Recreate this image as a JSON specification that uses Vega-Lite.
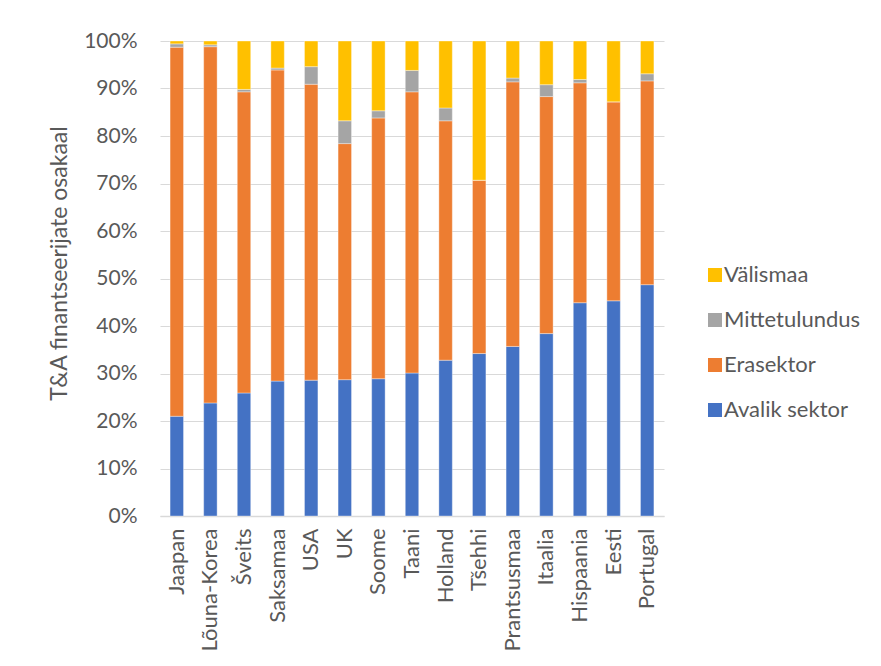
{
  "$schema": "https://vega.github.io/schema/vega-lite/v6.json",
  "width": 504,
  "height": 475,
  "autosize": {"type": "none"},
  "padding": {"left": 160, "top": 41, "right": 217, "bottom": 150},
  "background": "#ffffff",
  "config": {
    "font": "Lato",
    "view": {"stroke": null},
    "axis": {"labelColor": "#595959", "titleColor": "#595959", "labelFont": "Lato", "titleFont": "Lato"},
    "legend": {"labelFont": "Lato"}
  },
  "data": {
    "values": [
      {"riik": "Jaapan", "allikas": "Avalik sektor", "osa": 21.0},
      {"riik": "Jaapan", "allikas": "Erasektor", "osa": 77.7},
      {"riik": "Jaapan", "allikas": "Mittetulundus", "osa": 0.7},
      {"riik": "Jaapan", "allikas": "Välismaa", "osa": 0.6},
      {"riik": "Lõuna-Korea", "allikas": "Avalik sektor", "osa": 23.8},
      {"riik": "Lõuna-Korea", "allikas": "Erasektor", "osa": 75.0},
      {"riik": "Lõuna-Korea", "allikas": "Mittetulundus", "osa": 0.4},
      {"riik": "Lõuna-Korea", "allikas": "Välismaa", "osa": 0.8},
      {"riik": "Šveits", "allikas": "Avalik sektor", "osa": 25.9},
      {"riik": "Šveits", "allikas": "Erasektor", "osa": 63.4},
      {"riik": "Šveits", "allikas": "Mittetulundus", "osa": 0.5},
      {"riik": "Šveits", "allikas": "Välismaa", "osa": 10.2},
      {"riik": "Saksamaa", "allikas": "Avalik sektor", "osa": 28.4},
      {"riik": "Saksamaa", "allikas": "Erasektor", "osa": 65.5},
      {"riik": "Saksamaa", "allikas": "Mittetulundus", "osa": 0.4},
      {"riik": "Saksamaa", "allikas": "Välismaa", "osa": 5.7},
      {"riik": "USA", "allikas": "Avalik sektor", "osa": 28.6},
      {"riik": "USA", "allikas": "Erasektor", "osa": 62.3},
      {"riik": "USA", "allikas": "Mittetulundus", "osa": 3.7},
      {"riik": "USA", "allikas": "Välismaa", "osa": 5.4},
      {"riik": "UK", "allikas": "Avalik sektor", "osa": 28.7},
      {"riik": "UK", "allikas": "Erasektor", "osa": 49.7},
      {"riik": "UK", "allikas": "Mittetulundus", "osa": 4.8},
      {"riik": "UK", "allikas": "Välismaa", "osa": 16.8},
      {"riik": "Soome", "allikas": "Avalik sektor", "osa": 28.9},
      {"riik": "Soome", "allikas": "Erasektor", "osa": 54.9},
      {"riik": "Soome", "allikas": "Mittetulundus", "osa": 1.5},
      {"riik": "Soome", "allikas": "Välismaa", "osa": 14.7},
      {"riik": "Taani", "allikas": "Avalik sektor", "osa": 30.1},
      {"riik": "Taani", "allikas": "Erasektor", "osa": 59.2},
      {"riik": "Taani", "allikas": "Mittetulundus", "osa": 4.5},
      {"riik": "Taani", "allikas": "Välismaa", "osa": 6.2},
      {"riik": "Holland", "allikas": "Avalik sektor", "osa": 32.8},
      {"riik": "Holland", "allikas": "Erasektor", "osa": 50.4},
      {"riik": "Holland", "allikas": "Mittetulundus", "osa": 2.7},
      {"riik": "Holland", "allikas": "Välismaa", "osa": 14.1},
      {"riik": "Tšehhi", "allikas": "Avalik sektor", "osa": 34.2},
      {"riik": "Tšehhi", "allikas": "Erasektor", "osa": 36.5},
      {"riik": "Tšehhi", "allikas": "Mittetulundus", "osa": 0.0},
      {"riik": "Tšehhi", "allikas": "Välismaa", "osa": 29.3},
      {"riik": "Prantsusmaa", "allikas": "Avalik sektor", "osa": 35.7},
      {"riik": "Prantsusmaa", "allikas": "Erasektor", "osa": 55.7},
      {"riik": "Prantsusmaa", "allikas": "Mittetulundus", "osa": 0.8},
      {"riik": "Prantsusmaa", "allikas": "Välismaa", "osa": 7.8},
      {"riik": "Itaalia", "allikas": "Avalik sektor", "osa": 38.4},
      {"riik": "Itaalia", "allikas": "Erasektor", "osa": 49.9},
      {"riik": "Itaalia", "allikas": "Mittetulundus", "osa": 2.5},
      {"riik": "Itaalia", "allikas": "Välismaa", "osa": 9.2},
      {"riik": "Hispaania", "allikas": "Avalik sektor", "osa": 44.9},
      {"riik": "Hispaania", "allikas": "Erasektor", "osa": 46.3},
      {"riik": "Hispaania", "allikas": "Mittetulundus", "osa": 0.7},
      {"riik": "Hispaania", "allikas": "Välismaa", "osa": 8.1},
      {"riik": "Eesti", "allikas": "Avalik sektor", "osa": 45.3},
      {"riik": "Eesti", "allikas": "Erasektor", "osa": 41.9},
      {"riik": "Eesti", "allikas": "Mittetulundus", "osa": 0.0},
      {"riik": "Eesti", "allikas": "Välismaa", "osa": 12.8},
      {"riik": "Portugal", "allikas": "Avalik sektor", "osa": 48.7},
      {"riik": "Portugal", "allikas": "Erasektor", "osa": 42.9},
      {"riik": "Portugal", "allikas": "Mittetulundus", "osa": 1.5},
      {"riik": "Portugal", "allikas": "Välismaa", "osa": 6.9}
    ]
  },
  "mark": {"type": "bar", "stroke": "#ffffff", "strokeWidth": 0.6, "strokeOpacity": 0.6},
  "encoding": {
    "x": {
      "field": "riik",
      "type": "nominal",
      "sort": null,
      "scale": {"paddingInner": 0.6, "paddingOuter": 0.3},
      "axis": {
        "title": null,
        "labelAngle": -90,
        "labelAlign": "right",
        "labelBaseline": "middle",
        "labelFontSize": 22,
        "labelPadding": 12,
        "ticks": false,
        "domainColor": "#d9d9d9",
        "domainWidth": 1.5,
        "grid": false
      }
    },
    "y": {
      "field": "osa",
      "type": "quantitative",
      "stack": "normalize",
      "scale": {"domain": [0, 1], "nice": false},
      "axis": {
        "title": "T&A  finantseerijate osakaal",
        "titleFontSize": 23,
        "titleFontWeight": "normal",
        "titlePadding": 12,
        "titleY": 222,
        "format": ".0%",
        "values": [0, 0.1, 0.2, 0.3, 0.4, 0.5, 0.6, 0.7, 0.8, 0.9, 1],
        "labelFontSize": 21,
        "labelPadding": 23,
        "ticks": false,
        "domain": false,
        "grid": true,
        "gridColor": "#d9d9d9",
        "gridWidth": 1.2
      }
    },
    "color": {
      "field": "allikas",
      "type": "nominal",
      "scale": {
        "domain": ["Välismaa", "Mittetulundus", "Erasektor", "Avalik sektor"],
        "range": ["#FFC000", "#A5A5A5", "#ED7D31", "#4472C4"]
      },
      "legend": {
        "title": null,
        "orient": "none",
        "legendX": 544,
        "legendY": 223,
        "padding": 0,
        "symbolType": "square",
        "symbolSize": 196,
        "symbolStrokeWidth": 0,
        "labelFontSize": 22,
        "labelColor": "#595959",
        "labelOffset": -2,
        "rowPadding": 23
      }
    },
    "order": {"field": "allikas", "sort": "ascending"}
  }
}
